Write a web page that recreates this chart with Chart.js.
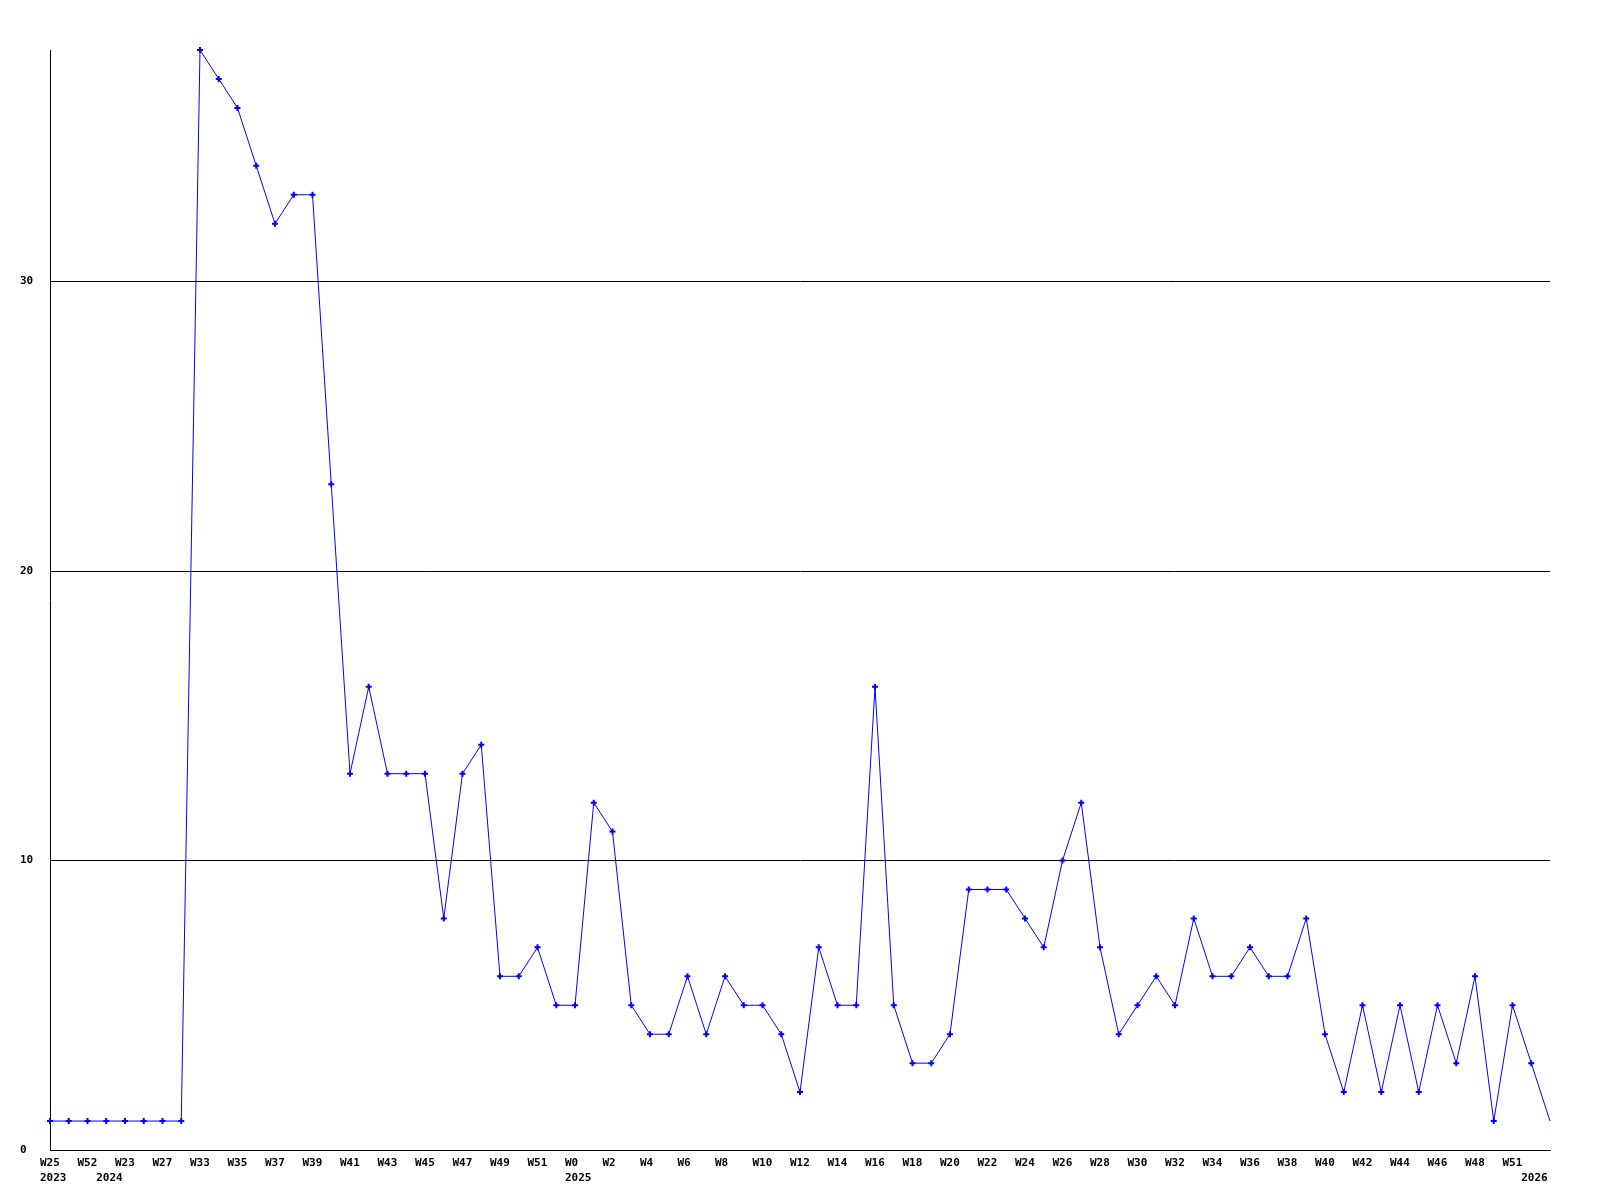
<!DOCTYPE html>
<html>
<head>
<meta charset="utf-8">
<script src="https://cdn.jsdelivr.net/npm/chart.js@4/dist/chart.umd.min.js"></script>
<style>
  body { margin: 0; background: #fff; }
  #chart { display: block; }
</style>
</head>
<body>
<canvas id="chart" width="1600" height="1200"></canvas>
<script>
// one value per week
var counts = [1, 1, 1, 1, 1, 1, 1, 1,
    38, 37, 36, 34, 32, 33, 33, 23, 13, 16, 13, 13, 13, 8, 13, 14, 6, 6, 7, 5,
    5, 12, 11, 5, 4, 4, 6, 4, 6, 5, 5, 4, 2, 7, 5, 5, 16, 5, 3, 3, 4, 9, 9, 9,
    8, 7, 10, 12, 7, 4, 5, 6, 5, 8, 6, 6, 7, 6, 6, 8, 4, 2, 5, 2, 5, 2, 5, 3,
    6, 1, 5, 3, 1];

// week labels as printed under the axis ('' = not printed)
var weekTicks = ['W25', '', 'W52', '', 'W23', '', 'W27', '',
    'W33', '', 'W35', '', 'W37', '', 'W39', '', 'W41', '', 'W43', '', 'W45', '',
    'W47', '', 'W49', '', 'W51', '',
    'W0', '', 'W2', '', 'W4', '', 'W6', '', 'W8', '', 'W10', '', 'W12', '',
    'W14', '', 'W16', '', 'W18', '', 'W20', '', 'W22', '', 'W24', '', 'W26', '',
    'W28', '', 'W30', '', 'W32', '', 'W34', '', 'W36', '', 'W38', '', 'W40', '',
    'W42', '', 'W44', '', 'W46', '', 'W48', '', 'W51', '', ''];

// second line: year marks
var yearIndex = [0, 3, 28, 79];
var yearNames = ['2023', '2024', '2025', '2026'];

var yTicks = [0, 10, 20, 30];

var tickFont = { family: 'DejaVu Sans Mono', size: 11, weight: 'bold', lineHeight: 1.36 };

var ctx = document.getElementById('chart').getContext('2d');
var chart = new Chart(ctx, {
    type: 'line',
    data: {
        labels: weekTicks.map(function (w, i) { return i; }),
        datasets: [{
            data: counts,
            borderColor: '#0000ff',
            backgroundColor: '#0000ff',
            borderWidth: 1,
            pointStyle: 'cross',
            pointRadius: function (c) { return c.dataIndex === counts.length - 1 ? 0 : 3; },
            pointBorderWidth: 2,
            tension: 0,
            fill: false,
            clip: false
        }]
    },
    options: {
        responsive: false,
        animation: false,
        layout: { padding: { left: 20, top: 50, right: 50, bottom: 0 } },
        plugins: { legend: { display: false }, tooltip: { enabled: false } },
        scales: {
            x: {
                type: 'category',
                offset: false,
                grid: { display: false, drawTicks: false },
                border: { display: true, color: '#000', width: 1 },
                afterFit: function (scale) { scale.height = 50; },
                ticks: {
                    autoSkip: false,
                    maxRotation: 0,
                    minRotation: 0,
                    align: 'start',
                    labelOffset: -10,
                    padding: 6,
                    color: '#000',
                    font: tickFont,
                    callback: function (value, index) {
                        var w = weekTicks[index];
                        var k = yearIndex.indexOf(index);
                        var y = k >= 0 ? yearNames[k] : '';
                        if (!w && !y) return '';
                        return [w, y];
                    }
                }
            },
            y: {
                min: 0,
                max: 38,
                grid: { color: '#000', lineWidth: 1, drawTicks: false },
                border: { display: true, color: '#000', width: 1 },
                afterFit: function (scale) { scale.width = 30; },
                afterBuildTicks: function (scale) {
                    scale.ticks = yTicks.map(function (v) { return { value: v }; });
                },
                ticks: {
                    crossAlign: 'far',
                    color: '#000',
                    font: tickFont
                }
            }
        }
    }
});
</script>
</body>
</html>
